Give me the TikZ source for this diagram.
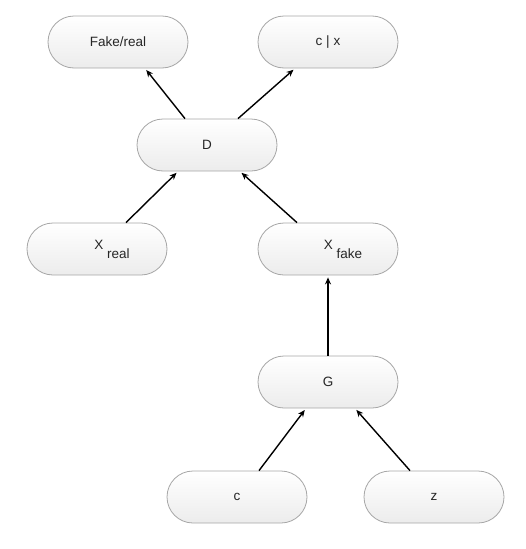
\documentclass[tikz,border=0pt]{standalone}
\usepackage{fontspec}
\setmainfont{Liberation Sans}
\usetikzlibrary{arrows.meta}
\definecolor{boxline}{HTML}{A6A6A6}
\definecolor{boxbot}{HTML}{ECECEC}
\tikzset{
  pill/.style={draw=boxline, line width=0.8pt, rounded corners=26pt,
    minimum width=140pt, minimum height=52pt, inner sep=0pt,
    top color=white, bottom color=boxbot, text=black!85,
    font=\fontsize{13.5}{15}\selectfont},
  conn/.style={line width=1.4pt, -{Stealth[length=7pt,width=6pt]}, shorten >=2pt}
}
\begin{document}
\begin{tikzpicture}[x=1pt,y=-1pt]
\useasboundingbox (0,0) rectangle (526,549);
\node[pill] (fr) at (118,42) {\raisebox{-1.5pt}{Fake/real}};
\node[pill] (cx) at (328,42) {\raisebox{-1.5pt}{c | x}};
\node[pill] (D)  at (207,145) {\raisebox{-1.5pt}{D}};
\node[pill] (xr) at (97,249) {\hspace*{30pt}X\ \raisebox{-9pt}{real}};
\node[pill] (xf) at (328,249) {\hspace*{30pt}X\ \raisebox{-9pt}{fake}};
\node[pill] (G)  at (328,382) {\raisebox{-1.5pt}{G}};
\node[pill] (c)  at (237,497) {\raisebox{-1.5pt}{c}};
\node[pill] (z)  at (434,497) {\raisebox{-1.5pt}{z}};
\draw[conn] ([xshift=-22pt]D.north) -- ([xshift=27pt]fr.south);
\draw[conn] ([xshift=31pt]D.north) -- ([xshift=-33pt]cx.south);
\draw[conn] ([xshift=29pt]xr.north) -- ([xshift=-29pt]D.south);
\draw[conn] ([xshift=-31pt]xf.north) -- ([xshift=33pt]D.south);
\draw[conn] (G.north) -- (xf.south);
\draw[conn] ([xshift=22pt]c.north) -- ([xshift=-22pt]G.south);
\draw[conn] ([xshift=-24pt]z.north) -- ([xshift=27pt]G.south);
\end{tikzpicture}
\end{document}
